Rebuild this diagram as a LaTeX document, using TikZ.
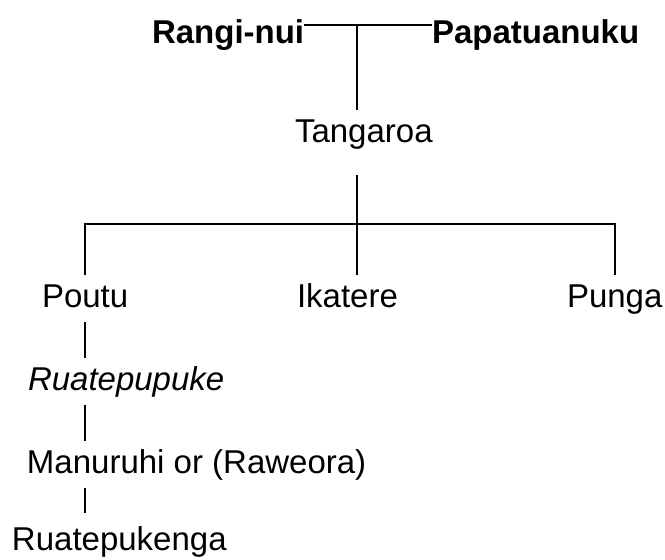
\documentclass[tikz,border=0pt]{standalone}
\usepackage{fontspec}
\setmainfont{Liberation Sans}

\begin{document}
\begin{tikzpicture}[x=1pt, y=-1pt, line width=1.7pt,
        kin/.style={inner sep=0pt, outer sep=8pt, text height=24pt, text depth=7pt, anchor=base west, font=\fontsize{33pt}{40pt}\selectfont},
        parent/.style={kin, outer sep=0pt, font=\fontsize{33pt}{40pt}\selectfont\bfseries}]
    \useasboundingbox (0, 0) rectangle (665, 560);
    \node[parent] (rangi) at (152, 43) {Rangi-nui};
    \node[parent] (papa) at (432, 43) {Papatuanuku};
    \node[kin] (tangaroa) at (287, 142) {Tangaroa};
    \node[kin] (poutu) at (34, 307) {Poutu};
    \node[kin] (ikatere) at (289, 307) {Ikatere};
    \node[kin] (punga) at (559, 307) {Punga};
    \node[kin, font=\fontsize{33pt}{40pt}\selectfont\itshape] (ruatepupuke) at (20, 390) {Ruatepupuke};
    \node[kin] (manuruhi) at (19, 473) {Manuruhi or (Raweora)};
    \node[kin] (ruatepukenga) at (4, 550) {Ruatepukenga};
    \coordinate (wed) at (357, 25);
    \coordinate (split) at (357, 224);
    % marriage line and descent
    \draw (rangi.east |- wed) -- (papa.west |- wed);
    \draw (wed) -- (wed |- tangaroa.north);
    \draw[shorten <=18pt] (split |- tangaroa.south) -- (split);
    \draw (poutu.north) |- (split) -| (punga.north);
    \draw (split) -- (split |- ikatere.north);
    \draw (poutu.south) -- (poutu.south |- ruatepupuke.north);
    \draw (poutu.south |- ruatepupuke.south) -- (poutu.south |- manuruhi.north);
    \draw[shorten >=5pt] (poutu.south |- manuruhi.south) -- (poutu.south |- ruatepukenga.north);
\end{tikzpicture}
\end{document}
